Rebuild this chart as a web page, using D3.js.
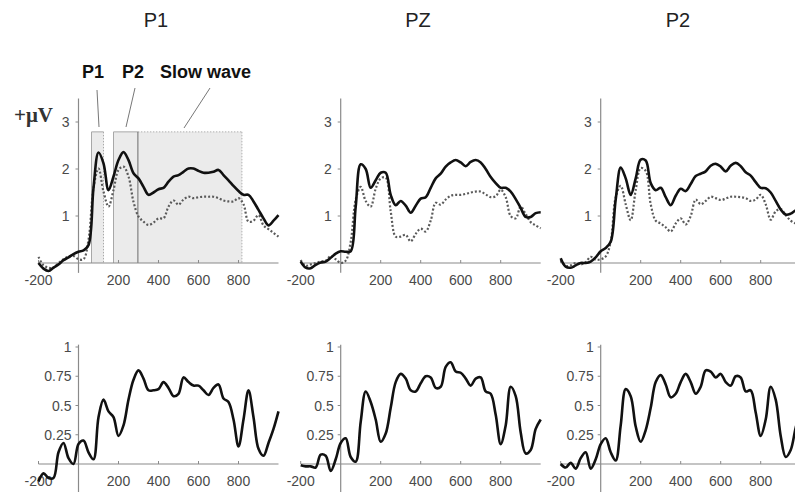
<!DOCTYPE html>
<html><head><meta charset="utf-8">
<script src="https://cdn.jsdelivr.net/npm/d3@7"></script>
<style>
html,body{margin:0;padding:0;background:#fff;}
svg{display:block;}
text{font-family:"Liberation Sans",Arial,sans-serif;}
</style></head>
<body>
<svg id="chart" width="795" height="492"></svg>
<script>
// time points (ms)
const times = [-200,-175,-150,-125,-100,-75,-50,-25,0,25,50,75,100,125,150,175,200,225,250,275,300,325,350,375,400,425,450,475,500,525,550,575,600,625,650,675,700,725,750,775,800,825,850,875,900,925,950,975,1000];

const channels = ["P1","PZ","P2"];

// top row: ERP amplitude (µV), solid and dotted conditions
const p1Solid = [0.0,-0.12,-0.17,-0.1,-0.03,0.06,0.12,0.19,0.24,0.27,0.38,1.6,2.35,2.12,1.55,1.84,2.19,2.36,2.19,1.91,1.8,1.62,1.45,1.5,1.57,1.6,1.73,1.84,1.87,1.94,2.01,2.01,1.96,1.92,1.92,1.94,1.98,1.87,1.76,1.64,1.53,1.45,1.45,1.31,1.13,0.95,0.8,0.9,1.02];
const p1Dotted = [0.13,-0.05,-0.1,-0.1,0.0,0.08,0.14,0.15,0.08,0.08,0.49,1.6,2.01,1.52,1.2,1.55,1.98,2.05,1.84,1.3,0.99,0.88,0.81,0.86,0.95,0.95,1.2,1.33,1.24,1.35,1.41,1.38,1.4,1.41,1.41,1.41,1.38,1.33,1.31,1.31,1.38,1.25,0.88,0.9,1.02,0.8,0.72,0.64,0.56];
const pzSolid = [0.03,-0.1,-0.11,-0.04,0.01,0.03,0.11,0.2,0.25,0.24,0.25,1.2,2.1,2.0,1.6,1.76,1.92,1.92,1.45,1.23,1.32,1.22,1.07,1.22,1.37,1.4,1.6,1.8,1.9,2.05,2.14,2.19,2.14,2.06,2.15,2.19,2.14,2.0,1.83,1.7,1.6,1.6,1.52,1.36,1.17,0.98,0.98,1.06,1.08];
const pzDotted = [0.06,-0.06,-0.03,0.0,0.03,0.05,0.15,0.08,0.0,0.05,0.45,1.35,1.62,1.32,1.2,1.58,1.8,1.82,1.1,0.56,0.56,0.6,0.46,0.62,0.73,0.67,0.9,1.28,1.24,1.35,1.43,1.45,1.45,1.47,1.5,1.52,1.52,1.46,1.4,1.42,1.56,1.4,1.0,0.95,1.2,1.04,0.87,0.8,0.74];
const p2Solid = [0.1,-0.08,-0.1,-0.05,0.0,0.0,0.03,0.12,0.25,0.32,0.45,1.35,2.03,1.8,1.45,1.8,2.2,2.18,1.7,1.55,1.6,1.4,1.23,1.43,1.58,1.53,1.68,1.85,1.9,1.95,2.07,2.11,2.05,1.95,2.07,2.13,2.06,1.93,1.86,1.72,1.6,1.59,1.5,1.32,1.14,1.03,1.05,1.12,1.15];
const p2Dotted = [0.06,-0.06,-0.05,0.0,-0.03,0.02,0.13,0.07,0.08,0.14,0.45,1.4,1.64,1.25,0.91,1.55,2.02,1.96,1.25,0.9,0.84,0.76,0.67,0.84,0.95,0.82,1.0,1.35,1.25,1.32,1.41,1.38,1.34,1.37,1.41,1.41,1.4,1.38,1.32,1.35,1.45,1.25,0.92,1.1,1.15,1.02,0.9,0.84,0.8];

// bottom row: second measure (0-1)
const p1Lower = [-0.15,-0.08,-0.12,-0.12,0.1,0.18,0.05,0.0,0.17,0.2,0.1,0.04,0.4,0.55,0.45,0.4,0.24,0.33,0.55,0.72,0.8,0.73,0.63,0.63,0.64,0.7,0.65,0.58,0.6,0.74,0.7,0.67,0.67,0.63,0.59,0.65,0.68,0.56,0.53,0.38,0.15,0.38,0.63,0.4,0.13,0.07,0.18,0.3,0.45];
const pzLower = [-0.01,-0.02,-0.02,-0.03,0.08,0.07,-0.06,0.04,0.18,0.22,0.06,0.02,0.36,0.62,0.53,0.38,0.19,0.26,0.48,0.7,0.77,0.73,0.63,0.62,0.69,0.75,0.74,0.65,0.66,0.83,0.87,0.79,0.78,0.73,0.67,0.73,0.74,0.62,0.6,0.42,0.17,0.33,0.66,0.58,0.27,0.09,0.12,0.3,0.38];
const p2Lower = [0.0,-0.03,0.01,-0.04,0.05,0.1,-0.04,0.04,0.17,0.22,0.1,0.03,0.33,0.64,0.58,0.32,0.19,0.29,0.48,0.7,0.76,0.68,0.57,0.6,0.7,0.77,0.7,0.6,0.66,0.8,0.79,0.74,0.77,0.7,0.67,0.75,0.74,0.62,0.63,0.44,0.24,0.38,0.66,0.55,0.24,0.06,0.12,0.31,0.45];

// tick labels
const xTicks = [-200,200,400,600,800];
const yTicksTop = [1,2,3];
const yTicksBottom = [0.25,0.5,0.75,1];

// analysis windows (ms) shown in the first panel
const windowNames = ["P1","P2","Slow wave"];
const windows = [[65,125],[175,297],[297,817]];
const windowTop = 2.79;

const topSolid = [p1Solid,pzSolid,p2Solid];
const topDotted = [p1Dotted,pzDotted,p2Dotted];
const lower = [p1Lower,pzLower,p2Lower];

const svg = d3.select("#chart");
svg.append("rect").attr("width",795).attr("height",492).attr("fill","#fff");

const axisX0 = [78.5, 340.7, 600.7];   // pixel of t=0 per column
const headerX = [156, 418, 678];
const pxPerMs = 0.2;
const axisColor = "#8a8a8a";
const labelColor = "#4a4a4a";

const yTop = d3.scaleLinear().domain([0,3]).range([263,122]);
const yBot = d3.scaleLinear().domain([0,1]).range([464,347]);

channels.forEach((ch,i)=>{
  const x = d3.scaleLinear().domain([-200,1000]).range([axisX0[i]-200*pxPerMs, axisX0[i]+1000*pxPerMs]);

  svg.append("text").attr("x",headerX[i]).attr("y",27).attr("text-anchor","middle")
    .attr("font-size",20).attr("fill","#222").text(ch);

  if(i===0){
    const g = svg.append("g");
    windows.forEach((w,k)=>{
      g.append("rect").attr("x",x(w[0])).attr("y",yTop(windowTop))
        .attr("width",x(w[1])-x(w[0])).attr("height",yTop(0)-yTop(windowTop))
        .attr("fill","#ebebeb").attr("stroke","none");
    });
    const bl = (x1,y1,x2,y2,col,dash)=>g.append("line").attr("x1",x1).attr("y1",y1).attr("x2",x2).attr("y2",y2)
        .attr("stroke",col).attr("stroke-width",1).attr("stroke-dasharray",dash||null);
    const t = yTop(windowTop), b = yTop(0);
    bl(x(windows[0][0]),t,x(windows[0][0]),b,"#a8a8a8");
    bl(x(windows[0][0]),t,x(windows[0][1]),t,"#a8a8a8");
    bl(x(windows[0][1]),t,x(windows[0][1]),b,"#a8a8a8","1.5,1.5");
    bl(x(windows[1][0]),t,x(windows[1][0]),b,"#a8a8a8");
    bl(x(windows[1][0]),t,x(windows[1][1]),t,"#a8a8a8");
    bl(x(windows[2][0]),t,x(windows[2][1]),t,"#b0b0b0","1.5,1.5");
    bl(x(windows[2][1]),t,x(windows[2][1]),b,"#b0b0b0","1.5,1.5");
    bl(x(windows[2][0]),t,x(windows[2][0]),b,"#6a6a6a");

    const labX = [82,122,160];
    windowNames.forEach((n,k)=>{
      svg.append("text").attr("x",labX[k]).attr("y",78).attr("font-size",18).attr("font-weight","bold")
        .attr("fill","#111").text(n);
    });
    const leaders = [[97,90,99,127],[135,88,126,127],[210,88,184,128]];
    leaders.forEach(l=>svg.append("line").attr("x1",l[0]).attr("y1",l[1]).attr("x2",l[2]).attr("y2",l[3])
      .attr("stroke","#777").attr("stroke-width",1));

    svg.append("text").attr("x",14).attr("y",122)
      .style("font-family","'Liberation Serif','Times New Roman',serif")
      .style("font-size","21px").style("font-weight","bold")
      .attr("fill","#333").text("+\u03BCV");
  }

  const gt = svg.append("g");
  gt.append("line").attr("x1",x(-200)).attr("x2",x(1000)).attr("y1",yTop(0)).attr("y2",yTop(0))
    .attr("stroke",axisColor).attr("stroke-width",1.2);
  gt.append("line").attr("x1",x(0)).attr("x2",x(0)).attr("y1",yTop(3.5)).attr("y2",yTop(-0.21))
    .attr("stroke",axisColor).attr("stroke-width",1.2);
  xTicks.forEach(v=>{
    gt.append("line").attr("x1",x(v)).attr("x2",x(v)).attr("y1",yTop(0)).attr("y2",yTop(0)-3).attr("stroke",axisColor);
    gt.append("text").attr("x",x(v)).attr("y",285).attr("text-anchor","middle").attr("font-size",14)
      .attr("fill",labelColor).text(v);
  });
  yTicksTop.forEach(v=>{
    gt.append("line").attr("x1",x(0)-3).attr("x2",x(0)).attr("y1",yTop(v)).attr("y2",yTop(v)).attr("stroke",axisColor);
    gt.append("text").attr("x",x(0)-9).attr("y",yTop(v)+5).attr("text-anchor","end").attr("font-size",14)
      .attr("fill",labelColor).text(v);
  });

  const lineTop = d3.line().x((d,k)=>x(times[k])).y(d=>yTop(d)).curve(d3.curveCatmullRom.alpha(0.5));
  gt.append("path").attr("d",lineTop(topDotted[i])).attr("fill","none").attr("stroke","#5a5a5a")
    .attr("stroke-width",2.2).attr("stroke-dasharray","2,2");
  gt.append("path").attr("d",lineTop(topSolid[i])).attr("fill","none").attr("stroke","#111")
    .attr("stroke-width",2.6).attr("stroke-linejoin","round");

  const gb = svg.append("g");
  gb.append("line").attr("x1",x(-200)).attr("x2",x(1000)).attr("y1",yBot(0)).attr("y2",yBot(0))
    .attr("stroke",axisColor).attr("stroke-width",1.2);
  gb.append("line").attr("x1",x(0)).attr("x2",x(0)).attr("y1",yBot(1.02)).attr("y2",yBot(-0.3))
    .attr("stroke",axisColor).attr("stroke-width",1.2);
  xTicks.forEach(v=>{
    gb.append("line").attr("x1",x(v)).attr("x2",x(v)).attr("y1",yBot(0)).attr("y2",yBot(0)-3).attr("stroke",axisColor);
    gb.append("text").attr("x",x(v)).attr("y",486).attr("text-anchor","middle").attr("font-size",14)
      .attr("fill",labelColor).text(v);
  });
  yTicksBottom.forEach(v=>{
    gb.append("line").attr("x1",x(0)-3).attr("x2",x(0)).attr("y1",yBot(v)).attr("y2",yBot(v)).attr("stroke",axisColor);
    gb.append("text").attr("x",x(0)-7).attr("y",yBot(v)+5).attr("text-anchor","end").attr("font-size",14)
      .attr("fill",labelColor).text(v);
  });
  const lineBot = d3.line().x((d,k)=>x(times[k])).y(d=>yBot(d)).curve(d3.curveCatmullRom.alpha(0.5));
  gb.append("path").attr("d",lineBot(lower[i])).attr("fill","none").attr("stroke","#111")
    .attr("stroke-width",2.6).attr("stroke-linejoin","round");
});
</script>
</body></html>
